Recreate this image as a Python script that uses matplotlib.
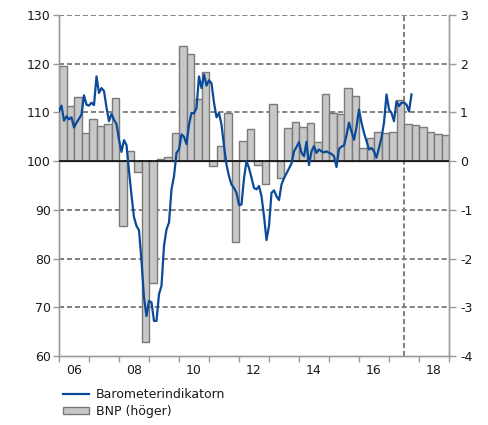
import numpy as np
import matplotlib
matplotlib.use("Agg")
import matplotlib.pyplot as plt

plt.rcParams["font.family"] = ["DejaVu Sans"]
plt.rcParams["axes.unicode_minus"] = False

# Barometerindikatorn, monthly from Jan 2006 (left axis)
barometer = [
    110.3, 111.4, 108.3, 109.2, 108.6, 109.0, 106.9, 107.9, 108.7, 109.6, 113.5, 111.6,
    111.4, 112.0, 111.5, 117.4, 114.0, 115.0, 114.4, 111.0, 108.2, 109.7, 108.5, 107.6,
    104.4, 101.9, 104.3, 103.3, 98.0, 93.0, 88.5, 86.7, 85.8, 79.5, 72.0, 68.2,
    71.3, 71.0, 67.2, 67.2, 72.7, 74.4, 82.6, 86.0, 87.4, 94.2, 96.9, 101.7,
    102.4, 105.5, 105.0, 103.5, 107.5, 109.9, 109.8, 110.9, 117.4, 115.0, 117.8, 115.5,
    116.6, 116.0, 112.0, 109.0, 109.9, 107.5, 103.1, 99.3, 96.9, 95.2, 94.5, 93.5,
    91.0, 91.1, 96.5, 100.0, 98.6, 96.6, 94.5, 94.2, 94.9, 92.8, 88.7, 83.8,
    86.7, 93.5, 94.0, 92.8, 92.0, 95.2, 96.5, 97.5, 98.5, 99.5, 102.0, 102.9,
    103.9, 101.7, 101.0, 104.0, 99.2, 102.0, 103.1, 101.7, 102.4, 102.0, 101.8, 102.0,
    101.7, 101.5, 101.0, 98.8, 102.5, 103.0, 103.2, 105.3, 107.9, 106.1, 104.4, 107.0,
    110.6, 107.9, 105.8, 104.1, 102.4, 102.7, 102.0, 100.7, 102.7, 104.8, 107.9, 113.7,
    110.6, 109.9, 108.2, 112.3, 111.3, 112.0, 112.0, 111.6, 110.2, 113.7,
]

# BNP quarterly growth, from 2006 Q1 (right axis)
bnp = [
    1.95, 1.14, 1.31, 0.58,
    0.87, 0.72, 0.77, 1.30,
    -1.34, 0.20, -0.23, -3.72,
    -2.50, 0.05, 0.08, 0.58,
    2.37, 2.20, 1.28, 1.83,
    -0.10, 0.31, 0.98, -1.67,
    0.42, 0.66, -0.08, -0.46,
    1.18, -0.34, 0.69, 0.81,
    0.70, 0.78, 0.40, 1.37,
    0.99, 0.96, 1.50, 1.33,
    0.27, 0.48, 0.59, 0.58,
    0.59, 1.26, 0.77, 0.74,
    0.70, 0.60, 0.55, 0.53,
]

year_ticks = list(range(2006, 2020))
year_labels = ["06", "08", "10", "12", "14", "16", "18"]
left_ticks = [60, 70, 80, 90, 100, 110, 120, 130]
right_ticks = [-4, -3, -2, -1, 0, 1, 2, 3]
forecast_start = 2017.5

x_month = 2006 + np.arange(len(barometer)) / 12
x_quarter = 2006 + (np.arange(len(bnp)) + 0.5) / 4

fig = plt.figure(figsize=(4.89, 4.25), dpi=100)
ax = fig.add_axes([59 / 489, 1 - 356 / 425, 390 / 489, 341 / 425])
ax2 = ax.twinx()

grid_col = "#808080"
spine_col = "#9a9a9a"
text_col = "#1a1a1a"

# bars + grid on right axis (drawn underneath)
ax2.set_ylim(-4, 3)
ax2.set_yticks(right_ticks)
ax2.set_yticklabels([str(t) for t in right_ticks])
for t in right_ticks[1:]:
    ax2.axhline(t, color=grid_col, linestyle=(0, (2.6, 1.5)), linewidth=1.4, zorder=0)
ax2.axvline(forecast_start, color=grid_col, linestyle=(0, (2.6, 1.5)), linewidth=1.4, zorder=0)
ax2.bar(x_quarter, bnp, width=0.25, color="#c8c8c8", edgecolor="#7a7a7a",
        linewidth=1.0, zorder=2)

# line on left axis (drawn on top)
ax.set_zorder(ax2.get_zorder() + 1)
ax.patch.set_visible(False)
ax.set_ylim(60, 130)
ax.set_yticks(left_ticks)
ax.axhline(100, color="black", linewidth=1.1, zorder=3)
ax.plot(x_month, barometer, color="#0a4a98", linewidth=1.6, zorder=4)

ax.set_xlim(2006, 2019)
ax.set_xticks(year_ticks)
ax.set_xticklabels([])
ax.set_xticks([y + 0.5 for y in range(2006, 2019, 2)], minor=True)
ax.set_xticklabels(year_labels, minor=True)
ax.tick_params(axis="x", which="major", direction="out", length=4, color=spine_col, width=1)
ax.tick_params(axis="x", which="minor", length=0, pad=6, labelsize=9, labelcolor=text_col)
ax.tick_params(axis="y", direction="out", length=4, color=spine_col, width=1,
               labelsize=9, labelcolor=text_col, pad=2)
ax2.tick_params(axis="y", direction="out", length=5, color=spine_col, width=1,
                labelsize=9, labelcolor=text_col, pad=3)

for a in (ax, ax2):
    a.spines["top"].set_visible(False)
    for s in ("left", "right", "bottom"):
        a.spines[s].set_color(spine_col)
        a.spines[s].set_linewidth(1)

from matplotlib.lines import Line2D
from matplotlib.patches import Patch
handles = [
    Line2D([], [], color="#0a4a98", linewidth=1.6),
    Patch(facecolor="#c8c8c8", edgecolor="#7a7a7a", linewidth=1.0),
]
fig.legend(handles, ["Barometerindikatorn", "BNP (höger)"], loc="upper left",
           bbox_to_anchor=(63 / 489, 1 - 388 / 425), frameon=False, fontsize=9,
           borderpad=0, borderaxespad=0, handlelength=2.1, handleheight=0.55,
           handletextpad=0.5, labelspacing=0.3, labelcolor=text_col)

fig.savefig("out.png", dpi=100)
